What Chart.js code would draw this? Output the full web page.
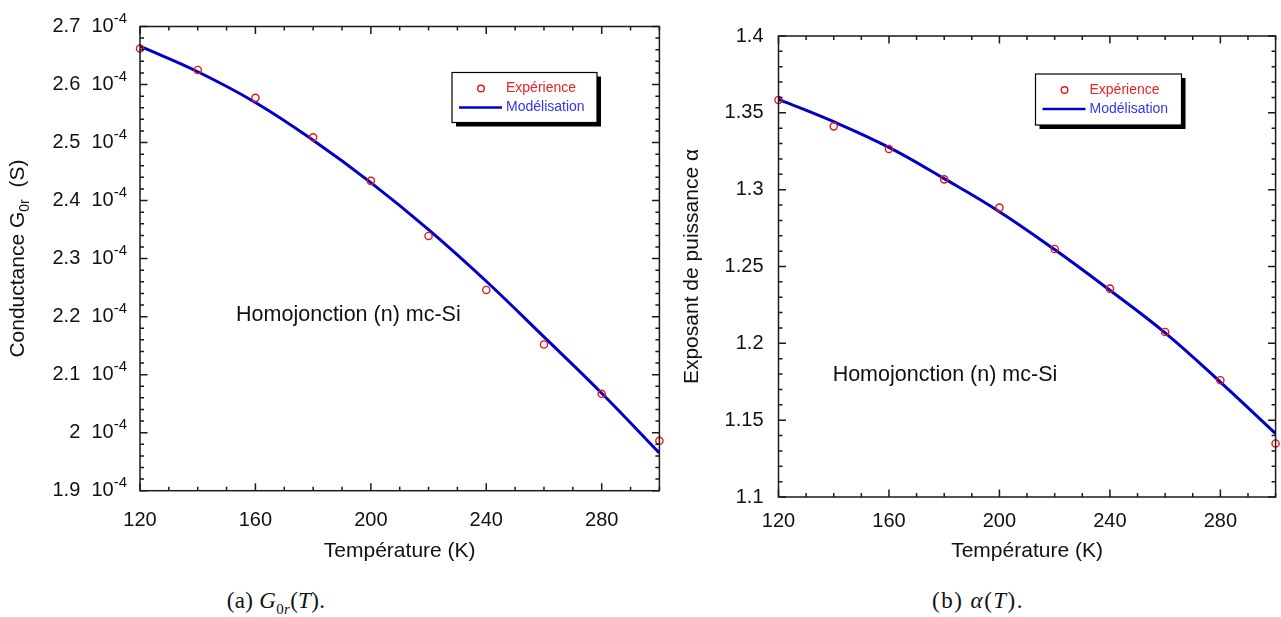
<!DOCTYPE html>
<html>
<head>
<meta charset="utf-8">
<script src="https://cdn.jsdelivr.net/npm/chart.js@4.4.1/dist/chart.umd.min.js"></script>
<style>
  body { margin: 0; background: #fff; width: 1281px; height: 617px; position: relative; overflow: hidden; }
  .box { position: absolute; top: 0; height: 568px; }
  #boxA { left: 0; width: 670px; }
  #boxB { left: 670px; width: 611px; }
  .cap { position: absolute; top: 588px; font: 23px "Liberation Serif", "DejaVu Serif", serif; color: #111;
         transform: translateX(-50%); white-space: nowrap; letter-spacing: 0.3px; }
  .cap sub { font-size: 15px; }
</style>
</head>
<body>
<div class="box" id="boxA"><canvas id="chartG"></canvas></div>
<div class="box" id="boxB"><canvas id="chartAlpha"></canvas></div>
<div class="cap" style="left:276px">(a) <i>G</i><sub>0<i>r</i></sub>(<i>T</i>).</div>
<div class="cap" style="left:978px; letter-spacing: 1.5px">(b) <i>α</i>(<i>T</i>).</div>

<script>
// temperatures (K)
const temps = [120, 140, 160, 180, 200, 220, 240, 260, 280, 300]

// G0r in units of 10^-4 S
const g0rExp   = [2.662, 2.625, 2.577, 2.509, 2.434, 2.339, 2.246, 2.152, 2.067, 1.986]
const g0rModel = [2.666, 2.622, 2.569, 2.504, 2.431, 2.350, 2.261, 2.165, 2.068, 1.965]

// power exponent alpha
const alphaExp   = [1.3584, 1.3412, 1.3265, 1.3067, 1.2883, 1.2614, 1.2356, 1.2074, 1.1760, 1.1348]
const alphaModel = [1.3588, 1.3442, 1.3275, 1.3072, 1.2857, 1.2610, 1.2345, 1.2068, 1.1748, 1.1413]

// tick values
const tempTicks  = [120, 160, 200, 240, 280]
const g0rTicks   = [1.9, 2.0, 2.1, 2.2, 2.3, 2.4, 2.5, 2.6, 2.7]
const alphaTicks = [1.1, 1.15, 1.2, 1.25, 1.3, 1.35, 1.4]

const FONT = "'Liberation Sans', Arial, sans-serif"
Chart.defaults.font.family = FONT
Chart.defaults.color = '#111'

// frame with inward ticks on all sides, legend box, note and custom y title
const framePlugin = {
  id: 'frame',
  afterDraw(chart, args, o) {
    const ctx = chart.ctx
    const a = chart.chartArea
    const xs = chart.scales.x, ys = chart.scales.y
    ctx.save()
    ctx.strokeStyle = '#1a1a1a'
    ctx.lineWidth = 1.5
    ctx.strokeRect(a.left, a.top, a.right - a.left, a.bottom - a.top)

    const marks = (min, max, step, major) => {
      const n = Math.round((max - min) / step)
      const out = []
      for (let i = 0; i <= n; i++) {
        const v = min + i * step
        out.push({ v, big: major.some(m => Math.abs(m - v) < step / 10) })
      }
      return out
    }
    ctx.beginPath()
    marks(xs.min, xs.max, o.xMinor, o.xMajor).forEach(m => {
      const px = xs.getPixelForValue(m.v), len = m.big ? 7.5 : 4
      ctx.moveTo(px, a.bottom); ctx.lineTo(px, a.bottom - len)
      ctx.moveTo(px, a.top); ctx.lineTo(px, a.top + len)
    })
    marks(ys.min, ys.max, o.yMinor, o.yMajor).forEach(m => {
      const py = ys.getPixelForValue(m.v), len = m.big ? 7.5 : 4
      ctx.moveTo(a.left, py); ctx.lineTo(a.left + len, py)
      ctx.moveTo(a.right, py); ctx.lineTo(a.right - len, py)
    })
    ctx.stroke()

    // y labels with a power-of-ten superscript
    if (o.supLabels) {
      const S = o.supLabels
      ctx.fillStyle = '#111'
      ctx.textBaseline = 'middle'
      ctx.textAlign = 'left'
      S.ticks.forEach(v => {
        const py = ys.getPixelForValue(v)
        const main = (+v.toFixed(1)) + '  10'
        ctx.font = '15px ' + FONT
        const ws = ctx.measureText(S.sup).width
        ctx.font = '20px ' + FONT
        const wm = ctx.measureText(main).width
        const xr = a.left - 13
        ctx.fillText(main, xr - ws - wm, py)
        ctx.font = '15px ' + FONT
        ctx.fillText(S.sup, xr - ws, py - 8)
      })
    }

    // note text
    ctx.fillStyle = '#111'
    ctx.font = '21.5px ' + FONT
    ctx.textAlign = 'left'
    ctx.textBaseline = 'middle'
    ctx.fillText(o.note.text, xs.getPixelForValue(o.note.x), ys.getPixelForValue(o.note.y))

    // legend box with shadow
    const L = o.legend
    const bx = a.left + L.x, by = a.top + L.y
    ctx.fillStyle = '#000'
    ctx.fillRect(bx + 4, by + 4, L.w, L.h)
    ctx.fillStyle = '#fff'
    ctx.fillRect(bx, by, L.w, L.h)
    ctx.lineWidth = 1.2
    ctx.strokeStyle = '#000'
    ctx.strokeRect(bx, by, L.w, L.h)
    ctx.beginPath()
    ctx.arc(bx + 29, by + 16, 3.3, 0, Math.PI * 2)
    ctx.strokeStyle = '#e8141b'
    ctx.lineWidth = 1.4
    ctx.stroke()
    ctx.beginPath()
    ctx.moveTo(bx + 7, by + 35); ctx.lineTo(bx + 50, by + 35)
    ctx.strokeStyle = '#0000c8'
    ctx.lineWidth = 2.5
    ctx.stroke()
    ctx.font = '14px ' + FONT
    ctx.fillStyle = '#e8232a'
    ctx.fillText('Expérience', bx + 54, by + 16)
    ctx.fillStyle = '#3535ee'
    ctx.fillText('Modélisation', bx + 54, by + 35)

    // y title with subscript
    if (o.yTitle) {
      const t = o.yTitle
      const cy = (a.top + a.bottom) / 2
      ctx.translate(t.x, cy)
      ctx.rotate(-Math.PI / 2)
      ctx.fillStyle = '#111'
      ctx.textAlign = 'left'
      ctx.textBaseline = 'middle'
      ctx.font = '21px ' + FONT
      const w1 = ctx.measureText(t.main).width
      const w3 = ctx.measureText(t.tail).width
      ctx.font = '14px ' + FONT
      const w2 = ctx.measureText(t.sub).width
      let x0 = -(w1 + w2 + w3) / 2
      ctx.font = '21px ' + FONT
      ctx.fillText(t.main, x0, 0)
      ctx.font = '14px ' + FONT
      ctx.fillText(t.sub, x0 + w1, 7)
      ctx.font = '21px ' + FONT
      ctx.fillText(t.tail, x0 + w1 + w2, 0)
    }
    ctx.restore()
  }
}

function makeChart(id, o) {
  return new Chart(document.getElementById(id), {
    type: 'line',
    data: {
      datasets: [
        {
          label: 'Expérience',
          data: temps.map((t, i) => ({ x: t, y: o.exp[i] })),
          showLine: false,
          pointRadius: 3.6,
          pointBorderWidth: 1.4,
          pointBorderColor: '#e8141b',
          pointBackgroundColor: 'rgba(0,0,0,0)',
          clip: false
        },
        {
          label: 'Modélisation',
          data: temps.map((t, i) => ({ x: t, y: o.model[i] })),
          borderColor: '#0000c8',
          borderWidth: 3,
          pointRadius: 0,
          tension: 0.4
        }
      ]
    },
    options: {
      responsive: true,
      maintainAspectRatio: false,
      animation: false,
      layout: { padding: o.pad },
      plugins: { legend: { display: false }, tooltip: { enabled: false }, frame: o.frame },
      scales: {
        x: {
          type: 'linear', min: 120, max: 300,
          afterBuildTicks: s => { s.ticks = tempTicks.map(v => ({ value: v })) },
          afterFit: s => { s.height = o.xh },
          grid: { display: false, drawTicks: false },
          border: { display: false },
          ticks: { padding: o.xpad, font: { size: 20 }, color: '#111' },
          title: { display: true, text: 'Température (K)', font: { size: 21 }, color: '#111', padding: { top: 4, bottom: 4 } }
        },
        y: {
          type: 'linear', min: o.ymin, max: o.ymax,
          afterBuildTicks: s => { s.ticks = o.yticks.map(v => ({ value: v })) },
          afterFit: s => { s.width = o.yw },
          grid: { display: false, drawTicks: false },
          border: { display: false },
          ticks: { display: o.nativeY, padding: o.ypad, font: { size: 20 }, color: '#111', callback: o.fmt },
          title: o.ytitle
        }
      }
    },
    plugins: [framePlugin]
  })
}

makeChart('chartG', {
  exp: g0rExp, model: g0rModel,
  ymin: 1.9, ymax: 2.7, yticks: g0rTicks, nativeY: false,
  fmt: v => (+v.toFixed(1)) + ' 10-4',
  pad: { top: 26.5, right: 10.6, left: 0, bottom: 0 },
  xh: 77.3, yw: 140, xpad: 18, ypad: 13,
  ytitle: { display: false },
  frame: {
    xMinor: 10, xMajor: tempTicks, yMinor: 0.02, yMajor: g0rTicks,
    supLabels: { ticks: g0rTicks, sup: '-4' },
    note: { text: 'Homojonction (n) mc-Si', x: 153.3, y: 2.203 },
    legend: { x: 312, y: 46, w: 145, h: 50 },
    yTitle: { x: 18, main: 'Conductance G', sub: '0r', tail: '  (S)' }
  }
})

makeChart('chartAlpha', {
  exp: alphaExp, model: alphaModel,
  ymin: 1.1, ymax: 1.4, yticks: alphaTicks, nativeY: true,
  fmt: v => String(+v.toFixed(2)),
  pad: { top: 36, right: 2, left: 0, bottom: 0 },
  xh: 71, yw: 108.5, xpad: 12, ypad: 15,
  ytitle: { display: true, text: 'Exposant de puissance α', font: { size: 21 }, color: '#111', padding: { top: 10, bottom: 0 } },
  frame: {
    xMinor: 10, xMajor: tempTicks, yMinor: 0.01, yMajor: alphaTicks,
    note: { text: 'Homojonction (n) mc-Si', x: 139.6, y: 1.1794 },
    legend: { x: 257, y: 38, w: 146, h: 51 },
    yTitle: null
  }
})
</script>
</body>
</html>
